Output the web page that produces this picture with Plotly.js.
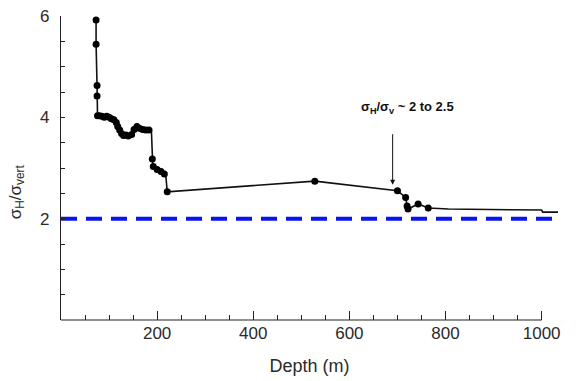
<!DOCTYPE html>
<html>
<head>
<meta charset="utf-8">
<script src="https://cdn.plot.ly/plotly-3.0.1.min.js"></script>
<style>html,body{margin:0;padding:0;background:#fff;}#chart{width:579px;height:381px;}</style>
</head>
<body>
<div id="chart"></div>
<script>
// Profile line (depth in m, stress ratio)
const lineDepth = [73, 73, 75, 75, 76, 85, 95, 100, 105, 112, 116, 118, 122, 126, 130, 140, 148, 152, 156, 165, 175, 188, 190, 191, 205, 212, 218, 221, 528, 700, 717, 720, 722, 743, 764, 806, 1000, 1002, 1034];
const lineRatio = [5.92, 5.44, 4.63, 4.42, 4.03, 4.02, 4.0, 4.02, 3.97, 3.98, 3.92, 3.85, 3.80, 3.72, 3.65, 3.64, 3.66, 3.74, 3.82, 3.78, 3.76, 3.76, 3.18, 3.03, 2.95, 2.90, 2.86, 2.53, 2.74, 2.55, 2.42, 2.25, 2.19, 2.29, 2.21, 2.19, 2.17, 2.13, 2.13];
// Measured points
const ptDepth = [73, 73, 75, 75, 76, 80, 85, 90, 95, 100, 105, 110, 115, 118, 122, 126, 130, 135, 140, 147, 152, 158, 164, 170, 176, 183, 190, 192, 200, 208, 215, 221, 528, 700, 717, 720, 722, 743, 764];
const ptRatio = [5.92, 5.44, 4.63, 4.42, 4.03, 4.03, 4.02, 4.0, 4.02, 4.0, 3.97, 3.95, 3.9, 3.82, 3.75, 3.68, 3.64, 3.65, 3.63, 3.66, 3.76, 3.82, 3.78, 3.76, 3.75, 3.75, 3.18, 3.03, 2.97, 2.93, 2.88, 2.53, 2.74, 2.55, 2.42, 2.25, 2.19, 2.29, 2.21];
// Reference ratio line
const refDepth = [0, 1034];
const refRatio = [2, 2];
// Ticks
const xMajor = [200, 400, 600, 800, 1000];
const yMajor = [2, 4, 6];

const traces = [
  {x: refDepth, y: refRatio, mode: 'lines', line: {color: '#0a14f0', width: 4, dash: '16px,9px'}, hoverinfo: 'skip'},
  {x: lineDepth, y: lineRatio, mode: 'lines', line: {color: '#111', width: 1.6}},
  {x: ptDepth, y: ptRatio, mode: 'markers', marker: {color: '#000', size: 7, symbol: 'circle'}}
];

const tf = {family: 'Liberation Sans, Arial, sans-serif', size: 17, color: '#2a2a2a'};

const layout = {
  width: 579, height: 381,
  margin: {l: 61, r: 21, t: 16, b: 61},
  showlegend: false,
  paper_bgcolor: '#fff', plot_bgcolor: '#fff',
  xaxis: {
    range: [0, 1034], showline: false, zeroline: false, showgrid: false,
    tickmode: 'array', tickvals: xMajor,
    ticks: 'inside', ticklen: 9, tickwidth: 1, tickcolor: '#222',
    minor: {dtick: 50, tick0: 0, ticks: 'inside', ticklen: 5, tickwidth: 1, tickcolor: '#222', showgrid: false},
    tickfont: tf, ticklabelstandoff: 1,
    title: {text: 'Depth (m)', font: {family: 'Liberation Sans, Arial, sans-serif', size: 18, color: '#2a2a2a'}, standoff: 17}
  },
  yaxis: {
    range: [0, 6], showline: true, linecolor: '#222', linewidth: 1.2, zeroline: false, showgrid: false,
    tickmode: 'array', tickvals: yMajor,
    ticks: 'inside', ticklen: 4, tickwidth: 1, tickcolor: '#222',
    minor: {dtick: 0.5, tick0: 0, ticks: 'inside', ticklen: 4, tickwidth: 1, tickcolor: '#222', showgrid: false},
    tickfont: tf, ticklabelstandoff: 7
  },
  shapes: [
    {type: 'line', xref: 'x', yref: 'paper', x0: 0, x1: 1000, y0: 0, y1: 0, line: {color: '#222', width: 1.2}}
  ],
  annotations: [
    {xref: 'paper', yref: 'paper', x: -0.0885, y: 0.42, text: 'σ<sub>H</sub>/σ<sub>vert</sub>', textangle: -90, showarrow: false,
     font: {family: 'Liberation Sans, Arial, sans-serif', size: 17, color: '#2a2a2a'}, xanchor: 'center', yanchor: 'middle'},
    {xref: 'x', yref: 'y', x: 720, y: 4.2, text: '<b>σ<sub>H</sub>/σ<sub>v</sub> ~ 2 to 2.5</b>', showarrow: false,
     font: {family: 'Liberation Sans, Arial, sans-serif', size: 13, color: '#111'}, xanchor: 'center', yanchor: 'middle'},
    {xref: 'x', yref: 'y', x: 690, y: 2.67, text: '', showarrow: true, arrowhead: 2, arrowsize: 1, arrowwidth: 1, arrowcolor: '#111',
     ax: 0, ay: -52, axref: 'pixel', ayref: 'pixel'}
  ]
};

Plotly.newPlot('chart', traces, layout, {displayModeBar: false, staticPlot: true});
</script>
</body>
</html>
